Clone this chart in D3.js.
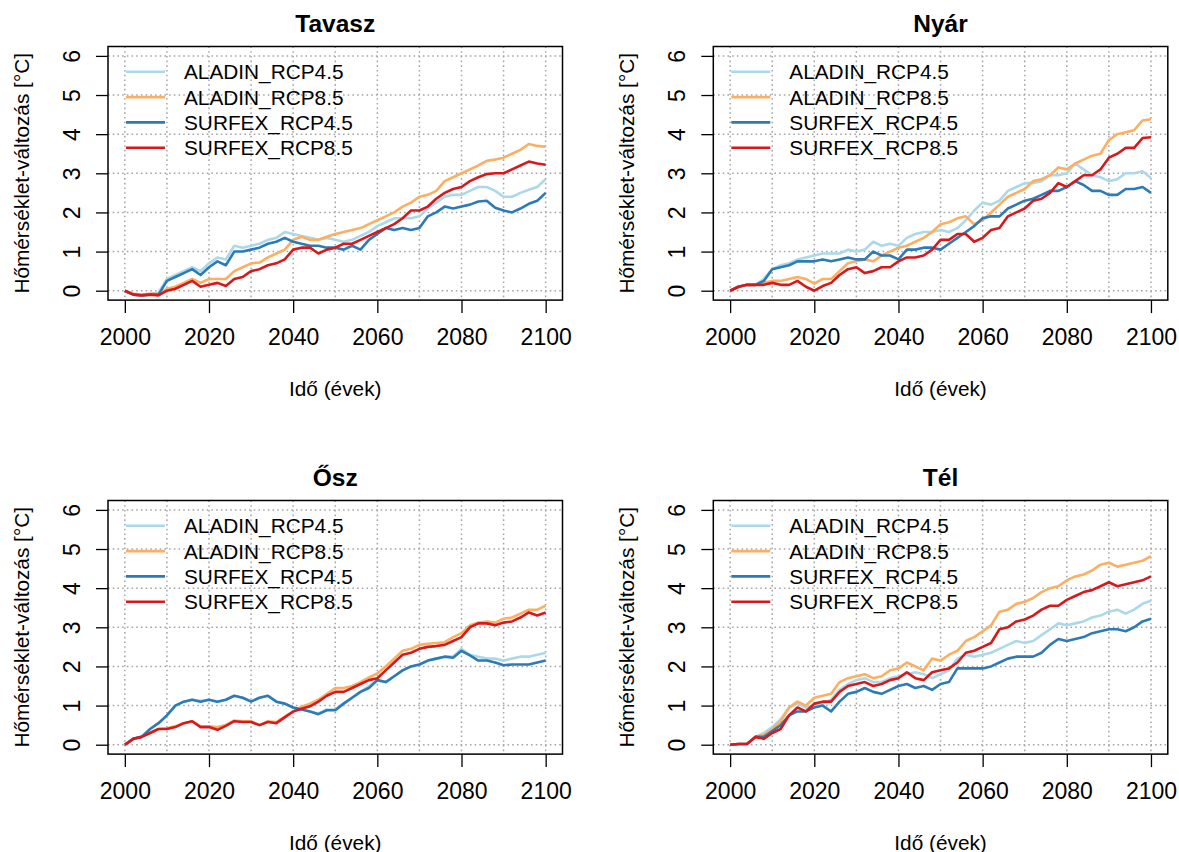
<!DOCTYPE html>
<html>
<head>
<meta charset="utf-8">
<script src="https://cdn.jsdelivr.net/npm/d3@7"></script>
<style>
  body { margin: 0; background: #fff; }
  text { font-family: "Liberation Sans", Arial, sans-serif; fill: #000; }
</style>
</head>
<body>
<script>
// x values: every second year, 2000..2100
const years = d3.range(2000, 2101, 2);
const seriesNames = ["ALADIN_RCP4.5", "ALADIN_RCP8.5", "SURFEX_RCP4.5", "SURFEX_RCP8.5"];
const seriesColors = ["#abd9e9", "#fdae61", "#2c7bb6", "#d7191c"];
const seasons = ["Tavasz", "Nyár", "Ősz", "Tél"];
const xTicks = [2000, 2020, 2040, 2060, 2080, 2100];
const yTicks = [0, 1, 2, 3, 4, 5, 6];
const xGrid = [2000, 2010, 2020, 2030, 2040, 2050, 2060, 2070, 2080, 2090, 2100];

// Tavasz
const tavaszAladin45 = [0, -0.08, -0.1, -0.08, -0.05, 0.3, 0.4, 0.5, 0.6, 0.5, 0.7, 0.85, 0.8, 1.15, 1.1, 1.15, 1.2, 1.3, 1.35, 1.5, 1.45, 1.4, 1.35, 1.3, 1.35, 1.3, 1.25, 1.3, 1.4, 1.5, 1.65, 1.75, 1.85, 1.85, 1.85, 1.9, 2.1, 2.25, 2.4, 2.45, 2.45, 2.55, 2.65, 2.65, 2.55, 2.4, 2.4, 2.5, 2.58, 2.65, 2.85];
const tavaszAladin85 = [0, -0.08, -0.1, -0.08, -0.08, 0.05, 0.1, 0.2, 0.3, 0.2, 0.3, 0.3, 0.3, 0.5, 0.6, 0.7, 0.72, 0.85, 0.95, 1.05, 1.3, 1.38, 1.3, 1.3, 1.38, 1.45, 1.5, 1.55, 1.6, 1.7, 1.8, 1.9, 2.0, 2.15, 2.25, 2.4, 2.45, 2.55, 2.8, 2.9, 3.0, 3.1, 3.2, 3.32, 3.35, 3.4, 3.5, 3.6, 3.75, 3.7, 3.68];
const tavaszSurfex45 = [0, -0.1, -0.12, -0.1, -0.1, 0.25, 0.35, 0.45, 0.55, 0.4, 0.6, 0.75, 0.65, 1.0, 1.0, 1.05, 1.1, 1.2, 1.25, 1.35, 1.25, 1.2, 1.15, 1.15, 1.1, 1.1, 1.05, 1.15, 1.05, 1.3, 1.45, 1.6, 1.55, 1.6, 1.55, 1.6, 1.9, 2.0, 2.15, 2.1, 2.15, 2.2, 2.28, 2.3, 2.12, 2.05, 2.0, 2.1, 2.22, 2.3, 2.5];
const tavaszSurfex85 = [0, -0.1, -0.12, -0.1, -0.12, 0.0, 0.05, 0.15, 0.25, 0.1, 0.15, 0.2, 0.12, 0.3, 0.35, 0.5, 0.55, 0.65, 0.7, 0.8, 1.05, 1.1, 1.1, 0.95, 1.05, 1.1, 1.2, 1.2, 1.3, 1.4, 1.5, 1.6, 1.7, 1.85, 2.05, 2.05, 2.15, 2.35, 2.5, 2.6, 2.65, 2.8, 2.9, 2.98, 3.0, 3.0, 3.1, 3.2, 3.3, 3.25, 3.22];

// Nyár
const nyarAladin45 = [0, 0.1, 0.15, 0.15, 0.3, 0.55, 0.65, 0.7, 0.8, 0.85, 0.9, 0.95, 0.95, 0.95, 1.05, 1.0, 1.05, 1.25, 1.15, 1.2, 1.15, 1.35, 1.45, 1.5, 1.5, 1.55, 1.5, 1.6, 1.8, 2.05, 2.25, 2.2, 2.3, 2.55, 2.65, 2.75, 2.75, 2.8, 2.95, 2.95, 3.0, 3.25, 3.1, 2.95, 2.9, 2.8, 2.85, 3.0, 3.0, 3.05, 2.88];
const nyarAladin85 = [0, 0.1, 0.15, 0.15, 0.2, 0.25, 0.25, 0.3, 0.35, 0.3, 0.18, 0.3, 0.3, 0.5, 0.7, 0.75, 0.8, 0.75, 0.9, 1.0, 1.1, 1.15, 1.25, 1.35, 1.5, 1.7, 1.75, 1.85, 1.9, 1.7, 1.8, 2.0, 2.2, 2.4, 2.5, 2.6, 2.8, 2.85, 2.95, 3.15, 3.1, 3.25, 3.35, 3.45, 3.5, 3.85, 4.0, 4.05, 4.1, 4.35, 4.38];
const nyarSurfex45 = [0, 0.1, 0.15, 0.15, 0.25, 0.55, 0.6, 0.65, 0.75, 0.75, 0.75, 0.8, 0.75, 0.8, 0.85, 0.8, 0.8, 1.0, 0.9, 0.9, 0.8, 1.05, 1.05, 1.1, 1.1, 1.05, 1.2, 1.35, 1.5, 1.65, 1.85, 1.9, 1.9, 2.1, 2.2, 2.3, 2.35, 2.45, 2.55, 2.55, 2.65, 2.8, 2.7, 2.55, 2.55, 2.45, 2.45, 2.6, 2.6, 2.65, 2.5];
const nyarSurfex85 = [0, 0.1, 0.15, 0.15, 0.15, 0.2, 0.15, 0.15, 0.25, 0.1, 0.0, 0.12, 0.2, 0.4, 0.55, 0.6, 0.45, 0.5, 0.6, 0.6, 0.75, 0.85, 0.85, 0.9, 1.05, 1.3, 1.3, 1.45, 1.45, 1.25, 1.35, 1.55, 1.6, 1.9, 2.0, 2.1, 2.3, 2.35, 2.5, 2.75, 2.65, 2.8, 2.95, 2.95, 3.1, 3.4, 3.5, 3.65, 3.65, 3.9, 3.92];

// Ősz
const oszAladin45 = [0, 0.15, 0.2, 0.4, 0.55, 0.75, 1.0, 1.1, 1.15, 1.12, 1.15, 1.1, 1.15, 1.25, 1.2, 1.12, 1.2, 1.25, 1.1, 1.05, 0.95, 0.9, 0.85, 0.8, 0.9, 0.9, 1.05, 1.2, 1.35, 1.5, 1.65, 1.6, 1.75, 1.9, 2.0, 2.05, 2.15, 2.2, 2.25, 2.25, 2.45, 2.3, 2.25, 2.2, 2.2, 2.15, 2.2, 2.25, 2.25, 2.3, 2.35];
const oszAladin85 = [0, 0.15, 0.2, 0.3, 0.4, 0.42, 0.47, 0.55, 0.6, 0.47, 0.47, 0.45, 0.5, 0.62, 0.6, 0.6, 0.5, 0.6, 0.58, 0.72, 0.85, 0.97, 1.05, 1.15, 1.3, 1.45, 1.45, 1.5, 1.6, 1.72, 1.82, 2.0, 2.2, 2.4, 2.45, 2.55, 2.58, 2.6, 2.62, 2.75, 2.85, 3.05, 3.12, 3.15, 3.12, 3.22, 3.25, 3.35, 3.45, 3.45, 3.55];
const oszSurfex45 = [0, 0.15, 0.2, 0.4, 0.55, 0.75, 1.0, 1.1, 1.15, 1.1, 1.15, 1.1, 1.15, 1.25, 1.2, 1.1, 1.2, 1.25, 1.1, 1.05, 0.95, 0.9, 0.85, 0.78, 0.88, 0.88, 1.05, 1.2, 1.35, 1.45, 1.65, 1.6, 1.75, 1.9, 2.0, 2.05, 2.15, 2.2, 2.25, 2.22, 2.4, 2.28, 2.15, 2.15, 2.1, 2.03, 2.05, 2.05, 2.05, 2.1, 2.15];
const oszSurfex85 = [0, 0.15, 0.2, 0.3, 0.4, 0.4, 0.45, 0.55, 0.6, 0.45, 0.45, 0.38, 0.48, 0.6, 0.58, 0.58, 0.5, 0.58, 0.55, 0.7, 0.85, 0.92, 0.98, 1.1, 1.25, 1.35, 1.35, 1.45, 1.55, 1.65, 1.7, 1.9, 2.1, 2.3, 2.35, 2.45, 2.5, 2.52, 2.55, 2.65, 2.75, 3.0, 3.1, 3.1, 3.05, 3.12, 3.15, 3.25, 3.38, 3.3, 3.38];

// Tél
const telAladin45 = [0, 0.02, 0.02, 0.2, 0.3, 0.45, 0.65, 0.95, 1.05, 0.95, 1.0, 1.05, 1.15, 1.4, 1.55, 1.65, 1.7, 1.6, 1.6, 1.7, 1.75, 1.8, 1.85, 1.8, 1.7, 1.8, 1.9, 2.2, 2.3, 2.25, 2.3, 2.35, 2.45, 2.55, 2.65, 2.6, 2.65, 2.8, 2.95, 3.1, 3.05, 3.1, 3.15, 3.25, 3.3, 3.4, 3.45, 3.35, 3.45, 3.6, 3.68];
const telAladin85 = [0, 0.02, 0.02, 0.2, 0.25, 0.4, 0.6, 0.95, 1.1, 1.0, 1.2, 1.25, 1.3, 1.6, 1.7, 1.75, 1.8, 1.7, 1.75, 1.9, 1.95, 2.1, 2.0, 1.9, 2.2, 2.15, 2.3, 2.4, 2.65, 2.75, 2.9, 3.05, 3.4, 3.45, 3.6, 3.65, 3.75, 3.9, 4.0, 4.05, 4.2, 4.3, 4.35, 4.45, 4.6, 4.65, 4.55, 4.6, 4.65, 4.7, 4.82];
const telSurfex45 = [0, 0.02, 0.02, 0.2, 0.2, 0.35, 0.5, 0.75, 0.85, 0.85, 0.95, 1.0, 0.85, 1.1, 1.3, 1.35, 1.45, 1.35, 1.3, 1.4, 1.5, 1.55, 1.45, 1.5, 1.4, 1.55, 1.6, 1.95, 1.95, 1.95, 1.95, 2.0, 2.1, 2.2, 2.25, 2.25, 2.25, 2.35, 2.55, 2.7, 2.65, 2.7, 2.75, 2.85, 2.9, 2.95, 2.95, 2.9, 3.0, 3.15, 3.22];
const telSurfex85 = [0, 0.02, 0.02, 0.2, 0.15, 0.3, 0.4, 0.75, 0.95, 0.85, 1.05, 1.1, 1.1, 1.35, 1.5, 1.55, 1.6, 1.5, 1.55, 1.65, 1.7, 1.85, 1.7, 1.65, 1.85, 1.9, 1.95, 2.1, 2.35, 2.4, 2.5, 2.6, 2.95, 3.0, 3.15, 3.2, 3.3, 3.45, 3.55, 3.55, 3.7, 3.8, 3.9, 3.95, 4.05, 4.15, 4.05, 4.1, 4.15, 4.2, 4.3];

const panelSeries = [
  [tavaszAladin45, tavaszAladin85, tavaszSurfex45, tavaszSurfex85],
  [nyarAladin45, nyarAladin85, nyarSurfex45, nyarSurfex85],
  [oszAladin45, oszAladin85, oszSurfex45, oszSurfex85],
  [telAladin45, telAladin85, telSurfex45, telSurfex85]
];

const width = 1179;
const height = 852;
const boxW = 454.5;
const boxH = 253.6;
const colLeft = [108, 713.3];
const rowTop = [46.5, 500.5];

const svg = d3.select("body").append("svg")
    .attr("width", width)
    .attr("height", height)
    .attr("viewBox", [0, 0, width, height]);

// R-style padded scales (4% either side)
const x = d3.scaleLinear([1996, 2104], [0, boxW]);
const y = d3.scaleLinear([-0.24, 6.24], [boxH, 0]);

const line = d3.line()
    .x((d, i) => x(years[i]))
    .y(d => y(d));

seasons.forEach((season, p) => {
  const g = svg.append("g")
      .attr("transform", `translate(${colLeft[p % 2]},${rowTop[Math.floor(p / 2)]})`);

  // dotted grid
  g.append("g")
      .attr("stroke", "#a6a6a6")
      .attr("stroke-width", 1.5)
      .attr("stroke-dasharray", "1.6,3.1")
      .call(gg => gg.selectAll(".v").data(xGrid).join("line")
          .attr("x1", d => x(d)).attr("x2", d => x(d))
          .attr("y1", 0).attr("y2", boxH))
      .call(gg => gg.selectAll(".h").data(yTicks).join("line")
          .attr("x1", 0).attr("x2", boxW)
          .attr("y1", d => y(d)).attr("y2", d => y(d)));

  // series lines
  g.append("g")
      .attr("fill", "none")
      .attr("stroke-width", 2.6)
      .attr("stroke-linejoin", "round")
      .selectAll("path")
      .data(panelSeries[p])
      .join("path")
      .attr("stroke", (d, i) => seriesColors[i])
      .attr("d", line);

  // box
  g.append("rect")
      .attr("width", boxW).attr("height", boxH)
      .attr("fill", "none").attr("stroke", "#000").attr("stroke-width", 1.5);

  // x axis
  g.append("g")
      .attr("transform", `translate(0,${boxH})`)
      .call(d3.axisBottom(x).tickValues(xTicks).tickSize(13).tickFormat(d3.format("d")))
      .call(a => a.select(".domain").remove())
      .call(a => a.selectAll(".tick line").attr("stroke", "#000").attr("stroke-width", 1.3))
      .call(a => a.selectAll(".tick text")
          .attr("y", 37).attr("dy", "0.36em")
          .attr("font-size", 23).attr("fill", "#000"));

  // y axis
  g.append("g")
      .call(d3.axisLeft(y).tickValues(yTicks).tickSize(12).tickFormat(d3.format("d")))
      .call(a => a.select(".domain").remove())
      .call(a => a.selectAll(".tick line").attr("stroke", "#000").attr("stroke-width", 1.3))
      .call(a => a.selectAll(".tick text")
          .attr("x", null).attr("dy", null)
          .attr("transform", "translate(-36.5,0) rotate(-90)")
          .attr("text-anchor", "middle")
          .attr("dominant-baseline", "central")
          .attr("font-size", 23).attr("fill", "#000"));

  // title
  g.append("text")
      .attr("x", boxW / 2).attr("y", -23.5).attr("dy", "0.36em")
      .attr("text-anchor", "middle")
      .attr("font-size", 24.5).attr("font-weight", "bold")
      .text(season);

  // axis titles
  g.append("text")
      .attr("x", boxW / 2).attr("y", boxH + 88).attr("dy", "0.36em")
      .attr("text-anchor", "middle")
      .attr("font-size", 20.8)
      .text("Idő (évek)");

  g.append("text")
      .attr("transform", `translate(-87,${boxH / 2}) rotate(-90)`)
      .attr("text-anchor", "middle")
      .attr("dominant-baseline", "central")
      .attr("font-size", 20.8)
      .text("Hőmérséklet-változás [°C]");

  // legend (no frame)
  const leg = g.append("g")
      .selectAll("g")
      .data(seriesNames)
      .join("g")
      .attr("transform", (d, i) => `translate(0,${25.3 + i * 25.3})`);
  leg.append("line")
      .attr("x1", 18).attr("x2", 57)
      .attr("stroke", (d, i) => seriesColors[i])
      .attr("stroke-width", 2.6);
  leg.append("text")
      .attr("x", 76).attr("dy", "0.36em")
      .attr("font-size", 20.8)
      .text(d => d);
});
</script>
</body>
</html>
